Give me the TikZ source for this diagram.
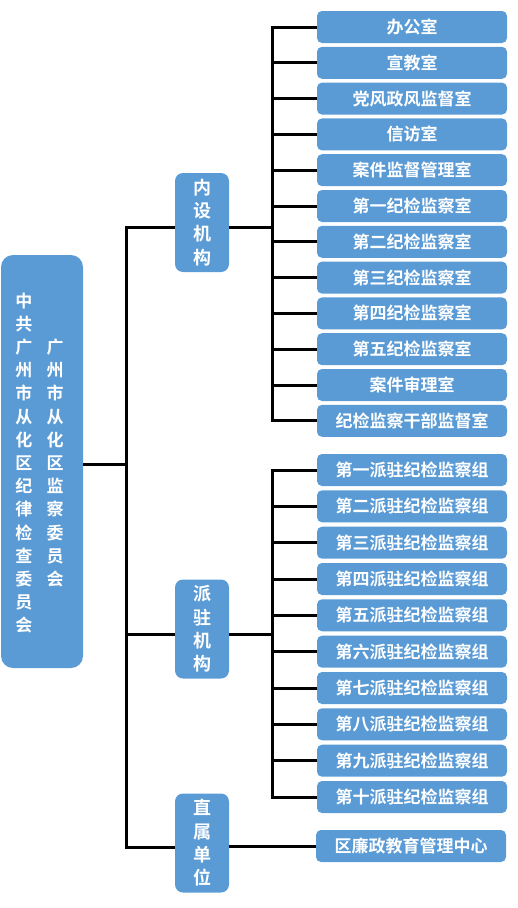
\documentclass[tikz,border=0pt]{standalone}
\usepackage{fontspec}
\newfontfamily\cjk[BoldFont={Noto Sans CJK SC Bold}]{Noto Sans CJK SC}

\begin{document}
\begin{tikzpicture}[x=1pt, y=-1pt]

\def\boxwidth{190}
\def\boxheight{32}
\definecolor{officeblue}{RGB}{91,155,213}
\tikzset{
  unit/.style={fill=officeblue, text=white, rounded corners=5pt, minimum width=\boxwidth pt, minimum height=\boxheight pt, inner sep=0pt, font=\cjk\bfseries\fontsize{17}{20}\selectfont},
  branch/.style={fill=officeblue, text=white, rounded corners=8pt, minimum width=54pt, minimum height=99pt, inner sep=0pt, align=center, font=\cjk\bfseries\fontsize{18}{23.3}\selectfont},
  column/.style={text=white, inner sep=0pt, align=center, font=\cjk\bfseries\fontsize{17}{23.2}\selectfont},
  link/.style={line width=3pt, black}
}

\useasboundingbox (0,0) rectangle (517,908);

% committee
\node[fill=officeblue, rounded corners=12pt, minimum width=82pt, minimum height=413pt] (weiyuanhui) at (42,461.5) {};
\node[column] (jiwei) at (24,463) {中\\共\\广\\州\\市\\从\\化\\区\\纪\\律\\检\\查\\委\\员\\会};
\node[column] (jianwei) at (55,463) {广\\州\\市\\从\\化\\区\\监\\察\\委\\员\\会};

% branches
\node[branch] (neishe) at (202,222.5) {内\\设\\机\\构};
\node[branch] (paizhu) at (202,629) {派\\驻\\机\\构};
\node[branch] (zhishu) at (202,843) {直\\属\\单\\位};

% internal offices
\node[unit] (ns1) at (412,27) {办公室};
\node[unit] (ns2) at (412,62.8) {宣教室};
\node[unit] (ns3) at (412,98.6) {党风政风监督室};
\node[unit] (ns4) at (412,134.4) {信访室};
\node[unit] (ns5) at (412,170.2) {案件监督管理室};
\node[unit] (ns6) at (412,206) {第一纪检监察室};
\node[unit] (ns7) at (412,241.8) {第二纪检监察室};
\node[unit] (ns8) at (412,277.6) {第三纪检监察室};
\node[unit] (ns9) at (412,313.4) {第四纪检监察室};
\node[unit] (ns10) at (412,349.2) {第五纪检监察室};
\node[unit] (ns11) at (412,385) {案件审理室};
\node[unit] (ns12) at (412,420.8) {纪检监察干部监督室};

% stationed groups
\node[unit] (pz1) at (412,470) {第一派驻纪检监察组};
\node[unit] (pz2) at (412,506.3) {第二派驻纪检监察组};
\node[unit] (pz3) at (412,542.7) {第三派驻纪检监察组};
\node[unit] (pz4) at (412,579) {第四派驻纪检监察组};
\node[unit] (pz5) at (412,615.3) {第五派驻纪检监察组};
\node[unit] (pz6) at (412,651.7) {第六派驻纪检监察组};
\node[unit] (pz7) at (412,688) {第七派驻纪检监察组};
\node[unit] (pz8) at (412,724.3) {第八派驻纪检监察组};
\node[unit] (pz9) at (412,760.7) {第九派驻纪检监察组};
\node[unit] (pz10) at (412,797) {第十派驻纪检监察组};

% directly affiliated
\node[unit] (lz) at (411,846) {区廉政教育管理中心};

% main trunk
\coordinate (maintop) at (126,227);
\coordinate (mainmid) at (126,464);
\coordinate (mainpz) at (126,634);
\coordinate (mainbot) at (126,847);
\draw[link] (neishe.west |- maintop) -- (maintop) -- (mainbot) -- (zhishu.west |- mainbot);
\draw[link] (weiyuanhui.east |- mainmid) -- (mainmid);
\draw[link] (mainpz) -- (paizhu.west |- mainpz);

% internal trunk
\coordinate (nsjoint) at (272,227);
\draw[link] (neishe.east |- nsjoint) -- (nsjoint);
\draw[link] (ns1.west) -- (nsjoint |- ns1.west) -- (nsjoint |- ns12.west) -- (ns12.west);
\draw[link] (nsjoint |- ns2.west) -- (ns2.west);
\draw[link] (nsjoint |- ns3.west) -- (ns3.west);
\draw[link] (nsjoint |- ns4.west) -- (ns4.west);
\draw[link] (nsjoint |- ns5.west) -- (ns5.west);
\draw[link] (nsjoint |- ns6.west) -- (ns6.west);
\draw[link] (nsjoint |- ns7.west) -- (ns7.west);
\draw[link] (nsjoint |- ns8.west) -- (ns8.west);
\draw[link] (nsjoint |- ns9.west) -- (ns9.west);
\draw[link] (nsjoint |- ns10.west) -- (ns10.west);
\draw[link] (nsjoint |- ns11.west) -- (ns11.west);

% stationed trunk
\coordinate (pzjoint) at (272,634);
\draw[link] (paizhu.east |- pzjoint) -- (pzjoint);
\draw[link] (pz1.west) -- (pzjoint |- pz1.west) -- (pzjoint |- pz10.west) -- (pz10.west);
\draw[link] (pzjoint |- pz2.west) -- (pz2.west);
\draw[link] (pzjoint |- pz3.west) -- (pz3.west);
\draw[link] (pzjoint |- pz4.west) -- (pz4.west);
\draw[link] (pzjoint |- pz5.west) -- (pz5.west);
\draw[link] (pzjoint |- pz6.west) -- (pz6.west);
\draw[link] (pzjoint |- pz7.west) -- (pz7.west);
\draw[link] (pzjoint |- pz8.west) -- (pz8.west);
\draw[link] (pzjoint |- pz9.west) -- (pz9.west);

% direct line
\draw[link] (zhishu.east |- lz.west) -- (lz.west);

\end{tikzpicture}
\end{document}
